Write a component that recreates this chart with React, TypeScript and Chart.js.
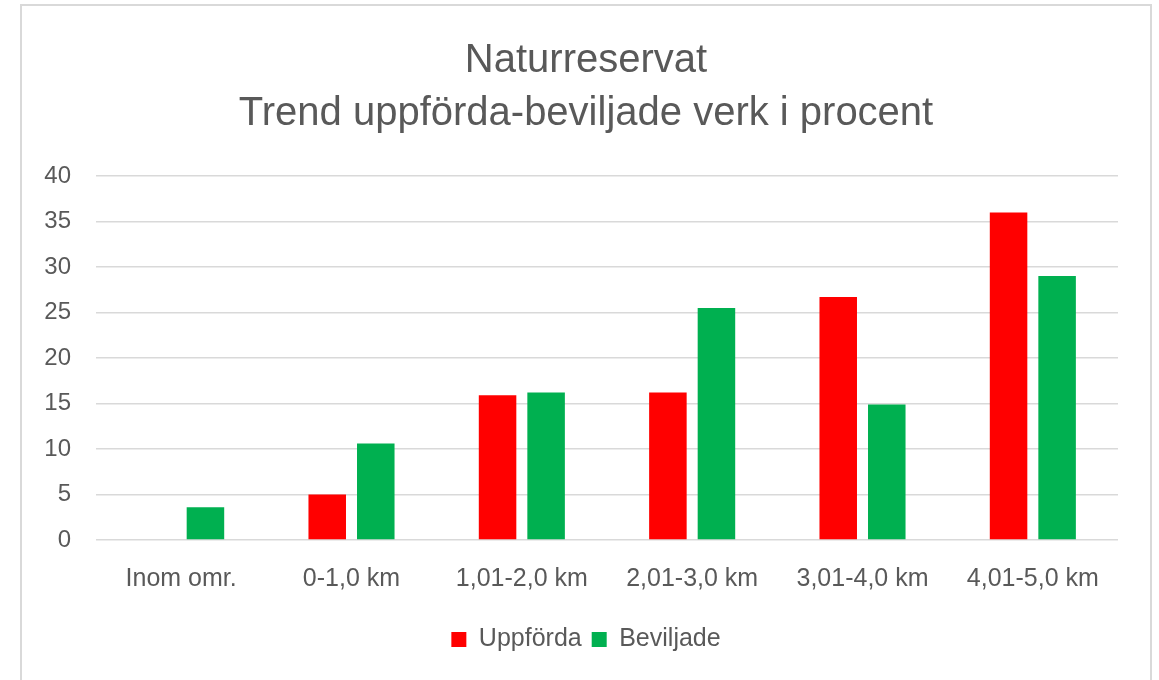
import React, { useEffect, useRef } from "react";
import { Chart, registerables } from "chart.js";

Chart.register(...registerables);

const categories = ["Inom omr.", "0-1,0 km", "1,01-2,0 km", "2,01-3,0 km", "3,01-4,0 km", "4,01-5,0 km"];
const uppforda = [0, 5.0, 15.9, 16.2, 26.7, 36.0];
const beviljade = [3.6, 10.6, 16.2, 25.5, 14.9, 29.0];
const seriesNames = ["Uppförda", "Beviljade"];
const titleLines = ["Naturreservat", "Trend uppförda-beviljade verk i procent"];
const yMin = 0;
const yMax = 40;
const yStep = 5;

const FONT = "'Liberation Sans', Arial, sans-serif";
const TEXT = "#595959";

export default function App() {
  const ref = useRef<HTMLCanvasElement | null>(null);

  useEffect(() => {
    if (!ref.current) return;
    const chart = new Chart(ref.current, {
      type: "bar",
      data: {
        labels: categories,
        datasets: [
          {
            label: seriesNames[0],
            data: uppforda,
            backgroundColor: "#FF0000",
            borderWidth: 0,
            categoryPercentage: 0.57,
            barPercentage: 0.773,
          },
          {
            label: seriesNames[1],
            data: beviljade,
            backgroundColor: "#00B050",
            borderWidth: 0,
            categoryPercentage: 0.57,
            barPercentage: 0.773,
          },
        ],
      },
      options: {
        responsive: false,
        animation: false,
        layout: { padding: { left: 20, right: 7, top: 0, bottom: 18 } },
        plugins: {
          tooltip: { enabled: false },
          title: {
            display: true,
            text: titleLines,
            color: TEXT,
            font: { family: FONT, size: 40, weight: "normal", lineHeight: 1.3375 },
            padding: { top: 34, bottom: 35 },
          },
          legend: {
            position: "bottom",
            labels: {
              color: TEXT,
              font: { family: FONT, size: 25 },
              boxWidth: 15,
              boxHeight: 15,
              padding: 10,
            },
          },
        },
        scales: {
          x: {
            grid: { display: false, drawTicks: false },
            border: { display: false },
            ticks: {
              color: TEXT,
              font: { family: FONT, size: 25 },
              padding: 24,
              maxRotation: 0,
              autoSkip: false,
            },
            afterFit: (s: any) => {
              s.height = 77;
            },
          },
          y: {
            min: yMin,
            max: yMax,
            grid: { color: "#D9D9D9", lineWidth: 1.5, drawTicks: false },
            border: { display: false },
            ticks: {
              stepSize: yStep,
              color: TEXT,
              font: { family: FONT, size: 24 },
              padding: 25,
            },
            afterFit: (s: any) => {
              s.width = 76;
            },
          },
          y2: {
            position: "right",
            display: true,
            grid: { display: false, drawTicks: false },
            border: { display: false },
            ticks: { display: false },
            afterFit: (s: any) => {
              s.width = 34;
            },
          },
        },
      },
    });
    return () => chart.destroy();
  }, []);

  return (
    <div>
      <div
        style={{
          position: "absolute",
          left: 20,
          top: 4,
          width: 1132,
          height: 700,
          border: "2px solid #D9D9D9",
          boxSizing: "border-box",
          background: "#fff",
        }}
      />
      <canvas
        ref={ref}
        width={1159}
        height={680}
        style={{ position: "absolute", left: 0, top: 0, width: 1159, height: 680 }}
      />
    </div>
  );
}
